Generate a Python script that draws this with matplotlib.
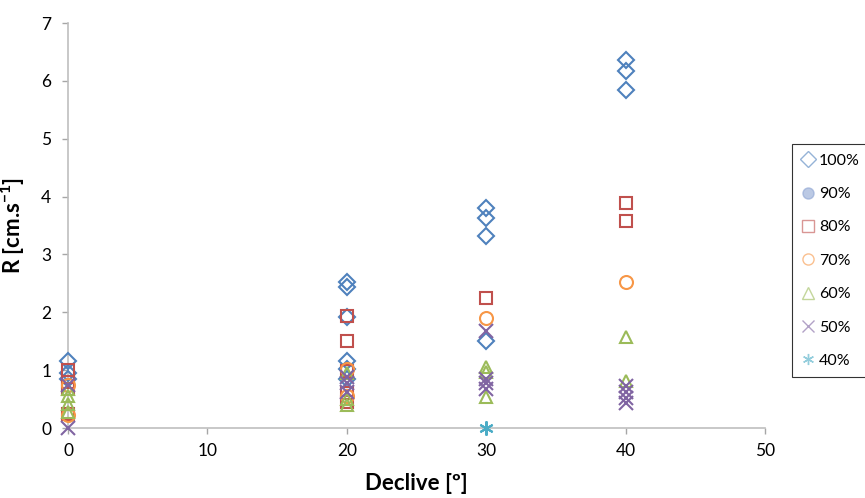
import matplotlib.pyplot as plt
import matplotlib as mpl

mpl.rcParams['font.family'] = ['Lato', 'DejaVu Sans']
mpl.rcParams['mathtext.fontset'] = 'custom'
mpl.rcParams['mathtext.rm'] = 'Lato'
mpl.rcParams['mathtext.bf'] = 'Lato:bold'

# declive (graus) e R (cm/s) por percentagem
x_100 = [0, 0, 0, 20, 20, 20, 20, 20, 20, 30, 30, 30, 30, 40, 40, 40]
r_100 = [1.15, 0.95, 0.85, 2.52, 2.44, 1.92, 1.15, 1.02, 0.85, 3.81, 3.63, 3.32, 1.5, 6.36, 6.17, 5.84]

x_90 = []
r_90 = []

x_80 = [0, 0, 0, 0, 20, 20, 20, 20, 20, 30, 40, 40]
r_80 = [1.0, 0.8, 0.68, 0.25, 1.93, 1.51, 0.98, 0.6, 0.45, 2.24, 3.89, 3.57]

x_70 = [0, 0, 20, 20, 30, 40]
r_70 = [0.75, 0.22, 1.02, 0.55, 1.9, 2.52]

x_60 = [0, 0, 0, 0, 20, 20, 20, 30, 30, 30, 40, 40]
r_60 = [0.68, 0.55, 0.42, 0.28, 0.95, 0.5, 0.4, 1.06, 0.97, 0.54, 1.57, 0.81]

x_50 = [0, 0, 20, 20, 20, 30, 30, 30, 30, 40, 40, 40, 40]
r_50 = [0.75, 0.0, 0.88, 0.78, 0.62, 1.68, 0.85, 0.78, 0.68, 0.72, 0.62, 0.52, 0.43]

x_40 = [30]
r_40 = [0.0]

series = [
    ('100%', x_100, r_100, 'D', '#4F81BD', 'none'),
    ('90%', x_90, r_90, 'o', '#8EA5D3', '#8EA5D3'),
    ('80%', x_80, r_80, 's', '#C0504D', 'none'),
    ('70%', x_70, r_70, 'o', '#F79646', 'none'),
    ('60%', x_60, r_60, '^', '#9BBB59', 'none'),
    ('50%', x_50, r_50, 'x', '#8064A2', 'none'),
    ('40%', x_40, r_40, (6, 2, 0), '#4BACC6', 'none'),
]

fig = plt.figure(figsize=(8.65, 4.98), dpi=100)
ax = fig.add_axes([68 / 865, 70 / 498, 697 / 865, 405 / 498])

for label, xs, ys, mk, col, fc in series:
    size = 9 if mk == 'D' else 11
    if mk in ('x', (6, 2, 0)):
        size = 12
    ax.plot(xs, ys, linestyle='none', marker=mk, markersize=size * 0.85,
            markeredgecolor=col, markerfacecolor=fc, markeredgewidth=1.5,
            color=col, label=label, clip_on=False, zorder=3)

ax.set_xlim(0, 50)
ax.set_ylim(0, 7)
ax.set_xticks(range(0, 51, 10))
ax.set_yticks(range(0, 8))
ax.tick_params(axis='both', labelsize=12.5, length=4, width=1, color='#A6A6A6', direction='out')
ax.tick_params(axis='x', pad=7)
ax.tick_params(axis='y', pad=8)

for s in ['top', 'right']:
    ax.spines[s].set_visible(False)
for s in ['left', 'bottom']:
    ax.spines[s].set_color('#BFBFBF')
    ax.spines[s].set_linewidth(1.2)

ax.set_xlabel('Declive [º]', fontsize=16, fontweight='bold', labelpad=10)
ax.set_ylabel(r'R [cm.s$^{\mathbf{-1}}$]', fontsize=16, fontweight='bold', labelpad=10)

leg = fig.legend(loc='upper left', bbox_to_anchor=(792 / 865, 1 - 144 / 498),
                 frameon=True, fancybox=False, fontsize=11.5, handlelength=0.8,
                 handletextpad=0.3, labelspacing=1.2, borderpad=0.6, borderaxespad=0)
leg.get_frame().set_edgecolor('#000000')
leg.get_frame().set_linewidth(0.8)
for h in leg.legend_handles:
    h.set_alpha(0.6)
    h.set_markersize(8)
    h.set_markeredgewidth(1.0)

fig.savefig('out.png', dpi=100)
